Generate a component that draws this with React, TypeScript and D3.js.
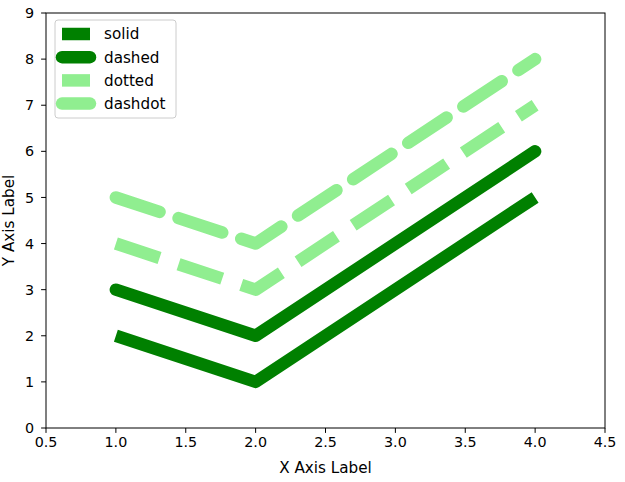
import React from "react";
import * as d3 from "d3";

const xs = [1, 2, 4];
const seriesNames = ["solid", "dashed", "dotted", "dashdot"];
const seriesValues = [
  [2, 1, 5],
  [3, 2, 6],
  [4, 3, 7],
  [5, 4, 8],
];
const seriesColors = ["#008000", "#008000", "#90ee90", "#90ee90"];
const seriesCaps = ["butt", "round", "butt", "round"];
const seriesDashed = [false, false, true, true];
const xTicks = [0.5, 1.0, 1.5, 2.0, 2.5, 3.0, 3.5, 4.0, 4.5];
const yTicks = [0, 1, 2, 3, 4, 5, 6, 7, 8, 9];

const W = 625;
const H = 482;
const left = 46;
const right = 605;
const top = 13;
const bottom = 428;
const LW = 12.5;

export default function App() {
  const x = d3.scaleLinear().domain([0.5, 4.5]).range([left, right]);
  const y = d3.scaleLinear().domain([0, 9]).range([bottom, top]);
  const line = d3
    .line<number>()
    .x((_, i) => x(xs[i]))
    .y((d) => y(d));
  const font = "DejaVu Sans, sans-serif";
  const tickFs = 14.3;
  const labelFs = 15.2;
  return (
    <svg
      width={W}
      height={H}
      style={{ position: "absolute", left: 0, top: 0, background: "#fff" }}
      fontFamily={font}
    >
      <rect x={0} y={0} width={W} height={H} fill="#fff" />
      {seriesValues.map((vals, i) => (
        <path
          key={i}
          d={line(vals) || ""}
          fill="none"
          stroke={seriesColors[i]}
          strokeWidth={LW}
          strokeLinecap={seriesCaps[i] as any}
          strokeLinejoin="round"
          strokeDasharray={seriesDashed[i] ? "46 20" : undefined}
        />
      ))}
      <rect
        x={left}
        y={top}
        width={right - left}
        height={bottom - top}
        fill="none"
        stroke="#000"
        strokeWidth={1}
      />
      {xTicks.map((t) => (
        <g key={"x" + t}>
          <line x1={x(t)} x2={x(t)} y1={bottom} y2={bottom + 4.9} stroke="#000" strokeWidth={1} />
          <text x={x(t)} y={bottom + 19} fontSize={tickFs} textAnchor="middle" fill="#000">
            {t.toFixed(1)}
          </text>
        </g>
      ))}
      {yTicks.map((t) => (
        <g key={"y" + t}>
          <line x1={left - 4.9} x2={left} y1={y(t)} y2={y(t)} stroke="#000" strokeWidth={1} />
          <text x={left - 12} y={y(t)} dy="0.36em" fontSize={tickFs} textAnchor="end" fill="#000">
            {t}
          </text>
        </g>
      ))}
      <text x={(left + right) / 2} y={473} fontSize={labelFs} textAnchor="middle" fill="#000">
        X Axis Label
      </text>
      <text
        transform={`translate(14, ${(top + bottom) / 2}) rotate(-90)`}
        fontSize={labelFs}
        textAnchor="middle"
        fill="#000"
      >
        Y Axis Label
      </text>
      <g>
        <rect
          x={55}
          y={20}
          width={121}
          height={98}
          rx={3}
          fill="#fff"
          fillOpacity={0.8}
          stroke="#cccccc"
          strokeWidth={1}
        />
        {seriesNames.map((n, i) => {
          const cy = 34 + i * 23.2;
          return (
            <g key={n}>
              <line
                x1={62}
                x2={90}
                y1={cy}
                y2={cy}
                stroke={seriesColors[i]}
                strokeWidth={LW}
                strokeLinecap={seriesCaps[i] as any}
              />
              <text x={104} y={cy} dy="0.36em" fontSize={labelFs} fill="#000">
                {n}
              </text>
            </g>
          );
        })}
      </g>
    </svg>
  );
}
